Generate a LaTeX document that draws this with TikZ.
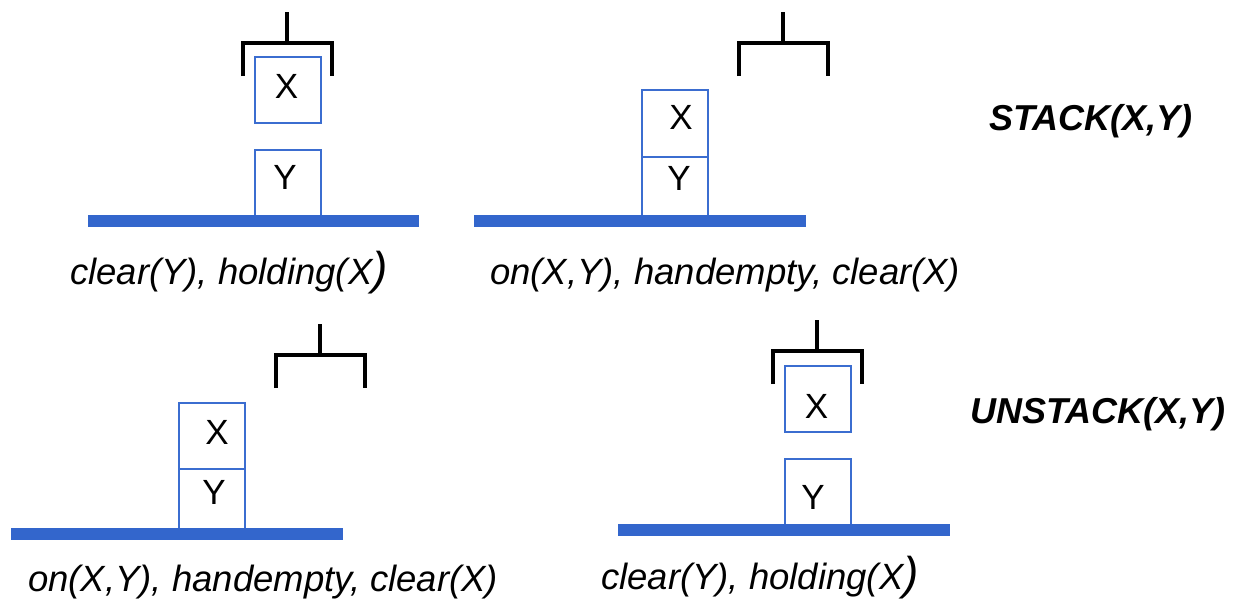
\documentclass[tikz,border=0pt]{standalone}
\usepackage{fontspec}
\setmainfont{Liberation Sans}
\definecolor{tableblue}{HTML}{3366CC}
\definecolor{boxblue}{HTML}{3B6DD0}
\begin{document}
\begin{tikzpicture}[x=1pt,y=-1pt,
  blockbox/.style={draw=boxblue, line width=2.8pt, fill=white, inner sep=0pt, minimum width=66pt, anchor=north west},
  letter/.style={inner sep=0pt, text depth=0pt, font=\fontsize{35}{40}\selectfont},
  tablebar/.style={fill=tableblue, inner sep=0pt, minimum height=12pt, anchor=north west},
  state/.style={inner sep=0pt, anchor=base west, font=\fontsize{36.5}{42}\selectfont\itshape},
  opname/.style={inner sep=0pt, font=\fontsize{36}{42}\selectfont\bfseries\itshape},
  handline/.style={line width=4pt, black},
  hand/.pic={\draw[handline] (0,0) -- (0,31) (-44.5,64) -- (-44.5,31) -- (44.5,31) -- (44.5,64);}
]
\useasboundingbox (0,0) rectangle (1238,600);
\newcommand{\bigparen}{{\fontsize{46}{46}\selectfont)}}

% ---- Panel 1: clear(Y), holding(X)
\pic at (287,12) {hand};
\node[blockbox, minimum height=66pt] (p1x) at (253.5,55.5) {};
\node[letter] (p1xl) at (286.5,86) {X};
\node[blockbox, minimum height=66pt] (p1y) at (253.5,148.5) {};
\node[letter] (p1yl) at (285,177.5) {Y};
\node[tablebar, minimum width=331pt] (t1) at (88,215) {};
\node[state] (s1) at (70,284) {clear(Y), holding(X\bigparen};

% ---- Panel 2: on(X,Y), handempty, clear(X)
\pic at (783,12) {hand};
\node[blockbox, minimum height=67pt] (p2x) at (640.5,88.5) {};
\node[letter] (p2xl) at (681,117) {X};
\node[blockbox, minimum height=60pt] (p2y) at (640.5,155.5) {};
\node[letter] (p2yl) at (679,178.5) {Y};
\node[tablebar, minimum width=332pt] (t2) at (474,215) {};
\node[state] (s2) at (490,284) {on(X,Y), handempty, clear(X)};

\node[opname] (op1) at (1091,121) {STACK(X,Y)};

% ---- Panel 3: on(X,Y), handempty, clear(X)
\pic at (320,324) {hand};
\node[blockbox, minimum height=66pt] (p3x) at (177.5,401.5) {};
\node[letter] (p3xl) at (217,432) {X};
\node[blockbox, minimum height=61pt] (p3y) at (177.5,467.5) {};
\node[letter] (p3yl) at (214,492) {Y};
\node[tablebar, minimum width=332pt] (t3) at (11,528) {};
\node[state] (s3) at (28,591) {on(X,Y), handempty, clear(X)};

% ---- Panel 4: clear(Y), holding(X)
\pic at (817,320) {hand};
\node[blockbox, minimum height=66pt] (p4x) at (783.5,364.5) {};
\node[letter] (p4xl) at (816.5,406) {X};
\node[blockbox, minimum height=66pt] (p4y) at (783.5,457.5) {};
\node[letter] (p4yl) at (813,497) {Y};
\node[tablebar, minimum width=332pt] (t4) at (618,524) {};
\node[state] (s4) at (601,589) {clear(Y), holding(X\bigparen};

\node[opname] (op2) at (1098,414) {UNSTACK(X,Y)};
\end{tikzpicture}
\end{document}
